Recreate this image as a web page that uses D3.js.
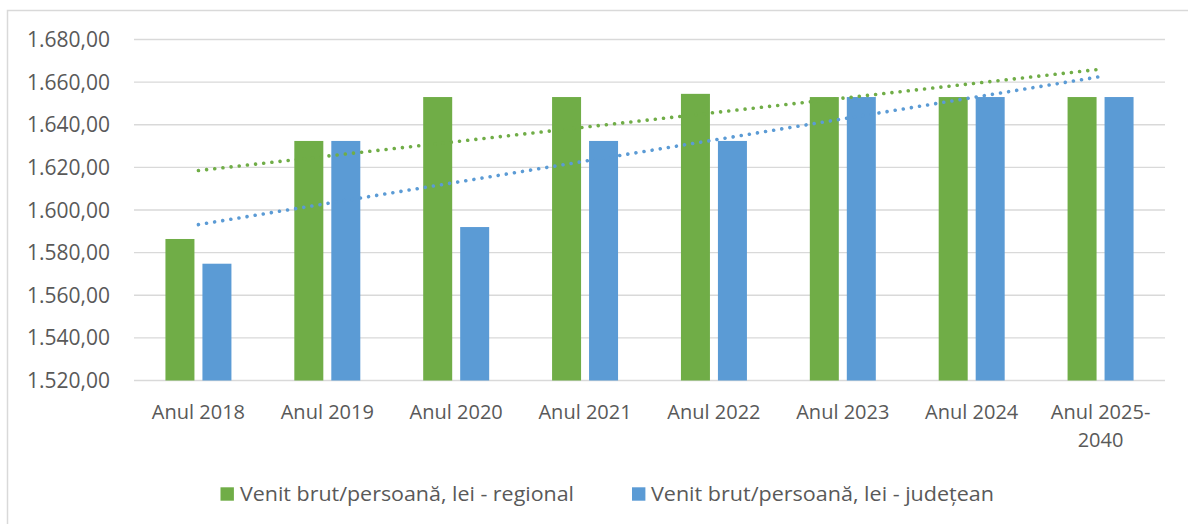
<!DOCTYPE html>
<html>
<head>
<meta charset="utf-8">
<script src="https://cdn.jsdelivr.net/npm/d3@7"></script>
<style>
  html, body { margin: 0; padding: 0; background: #ffffff; }
  svg { display: block; }
  text { font-family: "Open Sans", "Noto Sans", sans-serif; fill: #595959; }
</style>
</head>
<body>
<svg id="chart" width="1188" height="524"></svg>
<script>
// Categories (years) and the two income series, in lei per person
const categories = ["Anul 2018", "Anul 2019", "Anul 2020", "Anul 2021", "Anul 2022", "Anul 2023", "Anul 2024", "Anul 2025-2040"];
const categoryLines = [["Anul 2018"], ["Anul 2019"], ["Anul 2020"], ["Anul 2021"], ["Anul 2022"], ["Anul 2023"], ["Anul 2024"], ["Anul 2025-", "2040"]];
const regional = [1586.4, 1632.4, 1653.0, 1653.0, 1654.5, 1653.0, 1653.0, 1653.0];
const judetean = [1574.8, 1632.4, 1592.0, 1632.4, 1632.4, 1653.0, 1653.0, 1653.0];
const seriesNames = ["Venit brut/persoană, lei - regional", "Venit brut/persoană, lei - județean"];
const seriesColors = ["#70AD47", "#5B9BD5"];
const yTicks = [1520, 1540, 1560, 1580, 1600, 1620, 1640, 1660, 1680];

const svg = d3.select("#chart");

// Outer frame of the chart area
svg.append("rect")
  .attr("x", 7.5).attr("y", 10.5)
  .attr("width", 1200).attr("height", 600)
  .attr("fill", "none").attr("stroke", "#d9d9d9").attr("stroke-width", 1.5);

const plot = { left: 134, right: 1165, top: 39.5, bottom: 380.5 };

const x = d3.scaleBand().domain(categories).range([plot.left, plot.right]).padding(0);
const y = d3.scaleLinear().domain([1520, 1680]).range([plot.bottom, plot.top]);

const groupW = x.bandwidth() * 0.512;
const x1 = d3.scaleBand()
  .domain([0, 1])
  .range([(x.bandwidth() - groupW) / 2, (x.bandwidth() + groupW) / 2])
  .paddingInner(0.216);

// Horizontal gridlines
svg.append("g")
  .selectAll("line")
  .data(yTicks)
  .join("line")
  .attr("x1", plot.left).attr("x2", plot.right)
  .attr("y1", d => y(d)).attr("y2", d => y(d))
  .attr("stroke", "#d9d9d9").attr("stroke-width", 1.3);

// Y axis labels, European number format
const fmt = d3.formatLocale({ decimal: ",", thousands: ".", grouping: [3], currency: ["", " lei"] }).format(",.2f");
svg.append("g")
  .selectAll("text")
  .data(yTicks)
  .join("text")
  .attr("x", 110)
  .attr("y", d => y(d))
  .attr("dy", "0.36em")
  .attr("text-anchor", "end")
  .attr("font-size", 21)
  .text(d => fmt(d));

// Bars
const series = [regional, judetean];
series.forEach((vals, si) => {
  svg.append("g")
    .selectAll("rect")
    .data(vals)
    .join("rect")
    .attr("x", (d, i) => x(categories[i]) + x1(si))
    .attr("width", x1.bandwidth())
    .attr("y", d => y(d))
    .attr("height", d => y(1520) - y(d))
    .attr("fill", seriesColors[si]);
});

// X axis labels
const xl = svg.append("g")
  .selectAll("text")
  .data(categories)
  .join("text")
  .attr("x", d => x(d) + x.bandwidth() / 2)
  .attr("y", 419)
  .attr("text-anchor", "middle")
  .attr("font-size", 20);
xl.each(function(d, i) {
  const t = d3.select(this);
  categoryLines[i].forEach((ln, k) => {
    t.append("tspan")
      .attr("x", x(d) + x.bandwidth() / 2)
      .attr("dy", k === 0 ? 0 : 28)
      .text(ln);
  });
});

// Linear trendlines (least squares over category index 1..n)
function linearFit(vals) {
  const xs = vals.map((_, i) => i + 1);
  const mx = d3.mean(xs), my = d3.mean(vals);
  let sxy = 0, sxx = 0;
  xs.forEach((xi, i) => { sxy += (xi - mx) * (vals[i] - my); sxx += (xi - mx) * (xi - mx); });
  const slope = sxy / sxx;
  return k => my + slope * (k - mx);
}
series.forEach((vals, si) => {
  const f = linearFit(vals);
  const pts = [1, vals.length].map(k => [x(categories[k - 1]) + x.bandwidth() / 2, y(f(k))]);
  svg.append("path")
    .attr("d", d3.line()(pts))
    .attr("fill", "none")
    .attr("stroke", seriesColors[si])
    .attr("stroke-width", 3.6)
    .attr("stroke-linecap", "round")
    .attr("stroke-dasharray", "0.01 8.2");
});

// Legend
const legend = [
  { sq: 220.5, tx: 240, w: 334 },
  { sq: 632, tx: 651, w: 343 }
];
legend.forEach((l, i) => {
  svg.append("rect")
    .attr("x", l.sq).attr("y", 487.3)
    .attr("width", 13.4).attr("height", 13.4)
    .attr("fill", seriesColors[i]);
  svg.append("text")
    .attr("x", l.tx).attr("y", 500.7)
    .attr("font-size", 20.5)
    .attr("textLength", l.w)
    .attr("lengthAdjust", "spacingAndGlyphs")
    .text(seriesNames[i]);
});
</script>
</body>
</html>
